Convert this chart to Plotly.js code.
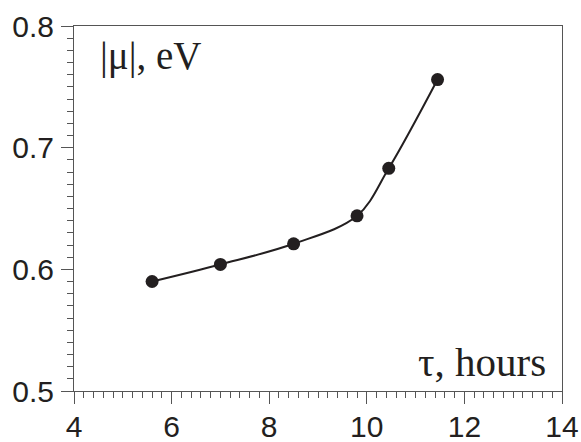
<!DOCTYPE html>
<html><head><meta charset="utf-8">
<script src="https://cdn.plot.ly/plotly-3.0.1.min.js"></script>
<style>html,body{margin:0;padding:0;background:#fff}#c{width:581px;height:442px}</style>
</head><body><div id="c"></div>
<script>
const tau = [5.6, 7.0, 8.5, 9.8, 10.45, 11.45];
const mu = [0.590, 0.604, 0.621, 0.644, 0.683, 0.756];
const xTicks = [4, 6, 8, 10, 12, 14];
const yTicks = [0.5, 0.6, 0.7, 0.8];
const yTickText = ['0.5', '0.6', '0.7', '0.8'];
const yLabel = '|\u03bc|, eV';
const xLabel = '\u03c4, hours';

const ink = '#231f20';
const axc = '#555';
Plotly.newPlot('c', [{
  x: tau, y: mu, type: 'scatter', mode: 'lines+markers',
  line: {shape: 'spline', smoothing: 1, color: ink, width: 2},
  marker: {size: 13, color: ink},
  hoverinfo: 'skip'
}], {
  width: 581, height: 442,
  margin: {l: 74, r: 19, t: 25.5, b: 51.3},
  paper_bgcolor: '#fff', plot_bgcolor: '#fff',
  showlegend: false,
  font: {family: 'Liberation Sans, Arial, sans-serif', color: ink},
  xaxis: {
    range: [4, 14], tickvals: xTicks, ticks: 'outside', ticklen: 12, tickwidth: 1, tickcolor: axc,
    showline: true, linecolor: axc, linewidth: 1, mirror: true, showgrid: false, zeroline: false,
    tickfont: {size: 30, color: ink}, ticklabelstandoff: -3,
    minor: {dtick: 0.2, ticks: 'outside', ticklen: 6, tickwidth: 1, tickcolor: axc, showgrid: false}
  },
  yaxis: {
    range: [0.5, 0.8], tickvals: yTicks, ticktext: yTickText, ticks: 'outside', ticklen: 12, tickwidth: 1, tickcolor: axc,
    showline: true, linecolor: axc, linewidth: 1, mirror: true, showgrid: false, zeroline: false,
    tickfont: {size: 30, color: ink}, ticklabelstandoff: 1,
    minor: {dtick: 0.01, ticks: 'outside', ticklen: 6, tickwidth: 1, tickcolor: axc, showgrid: false}
  },
  annotations: [
    {text: yLabel, xref: 'paper', yref: 'paper', x: 0.05, y: 0.919, xanchor: 'left', yanchor: 'middle',
     showarrow: false, font: {family: 'Liberation Serif, Times New Roman, serif', size: 39, color: ink}},
    {text: xLabel, xref: 'paper', yref: 'paper', x: 0.971, y: 0.079, xanchor: 'right', yanchor: 'middle',
     showarrow: false, font: {family: 'Liberation Serif, Times New Roman, serif', size: 41, color: ink}}
  ]
}, {staticPlot: true});
</script></body></html>
